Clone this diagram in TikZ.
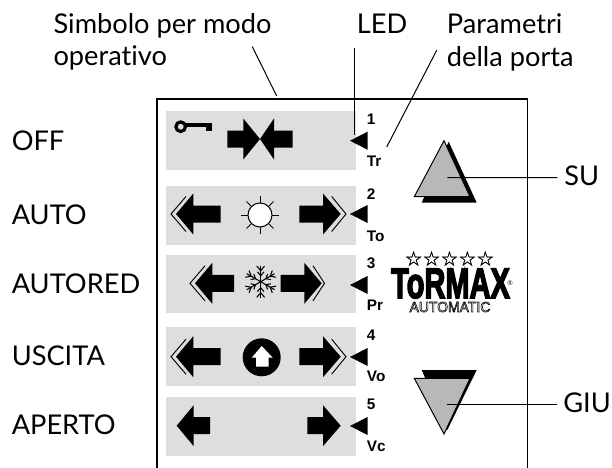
\documentclass[tikz,border=0pt]{standalone}
\usepackage{fontspec}
\setmainfont[Ligatures=NoCommon]{Lato}
\newfontfamily\panelfont{Liberation Sans}
\newfontfamily\logofont[FakeBold=4]{Liberation Sans Bold}
\newfontfamily\starfont[FakeBold=0.8]{DejaVu Sans}
\usetikzlibrary{positioning, calc}
\definecolor{bandgrey}{HTML}{DEDEDE}
\definecolor{buttongrey}{HTML}{B8B8B8}
\tikzstyle{label} = [inner sep=0, anchor=base west, font=\fontsize{20.4}{25}\selectfont, align=left]
\tikzstyle{small} = [inner sep=0, anchor=base west, font=\panelfont\fontsize{11.5}{13}\selectfont\bfseries]
\tikzstyle{leader} = [black, line width=0.75pt]
\tikzstyle{band} = [fill=bandgrey]
\tikzstyle{button} = [fill=buttongrey, draw=black, line width=0.75pt]
% tip x, head base x, shaft end x, y
\newcommand{\doorarrow}[4]{\fill (#1,#4) -- (#2,#4-20.5) -- (#2,#4-8.5) -- (#3,#4-8.5) -- (#3,#4+8.5) -- (#2,#4+8.5) -- (#2,#4+20.5) -- cycle;}
% tip x, arm x, y
\newcommand{\doorchevron}[3]{\draw[line width=0.7pt] (#2,#3-17.5) -- (#1,#3) -- (#2,#3+17.5);}

\begin{document}
\begin{tikzpicture}[x=0.75pt, y=-0.75pt]
	\useasboundingbox (0,0) rectangle (612,468);

	% panel
	\fill[white] (0,0) rectangle (612,468);
	\foreach \top/\bot in {111/169.5, 186/245, 255/313, 327/386, 397/456} {
		\fill[band] (166,\top) rectangle (356,\bot);
	}
	\draw[line width=0.9pt] (157,468) -- (157,99) -- (527.7,99) -- (527.7,468);

	% mode labels
	\node (off) [label] at (11.5,150.7) {OFF};
	\node (auto) [label] at (11.5,224.3) {AUTO};
	\node (autored) [label] at (11.5,293.3) {AUTORED};
	\node (uscita) [label] at (11.5,365) {USCITA};
	\node (aperto) [label] at (11.5,434) {APERTO};

	% top labels
	\node (simbolo) [label] at (53.3,33.3) {Simbolo per modo};
	\node (operativo) [label] at (53.3,65) {operativo};
	\node (led) [label] at (356.7,33.3) {LED};
	\node (parametri) [label] at (446.7,33.3) {Parametri};
	\node (porta) [label] at (446.7,66) {della porta};
	\node (su) [label] at (564,185) {SU};
	\node (giu) [label] at (563,412) {GIU};

	% LEDs and door parameters
	\foreach \n/\yled/\ynum/\ycode/\code in {1/140.7/124/166/Tr, 2/214/199/241/To, 3/285/268/310/Pr, 4/357/340.7/381.7/Vo, 5/426/409/451/Vc} {
		\fill (350,\yled) -- (367.5,\yled-9) -- (367.5,\yled+9) -- cycle;
		\coordinate (led-\n) at (354.7,\yled-5.5);
		\coordinate (code-\n) at (386.7,\yled+6.3);
		\node (num-\n) [small] at (366.7,\ynum) {\n};
		\node (par-\n) [small] at (366.7,\ycode) {\code};
	}

	% key
	\draw[line width=2.4pt] (180.7,126.7) circle (4.8);
	\fill (185,122.8) rectangle (212,127);
	\fill (206,122.8) rectangle (212,130.7);

	% arrows of each mode
	\doorarrow{260}{243.3}{227.3}{139}
	\doorarrow{260}{274}{292.7}{139}
	\doorarrow{176}{193.3}{220.7}{214}
	\doorarrow{340.7}{323}{299.3}{214}
	\doorchevron{171}{186}{214}
	\doorchevron{346}{331.7}{214}
	\doorarrow{195}{212.3}{234}{283.3}
	\doorarrow{321.7}{304.3}{280.7}{283.3}
	\doorchevron{190}{205}{283.3}
	\doorchevron{324.5}{313}{283.3}
	\doorarrow{176}{193.3}{220.7}{356.7}
	\doorarrow{340.7}{323}{299.3}{356.7}
	\doorchevron{171}{186}{356.7}
	\doorchevron{346}{331.7}{356.7}
	\doorarrow{176.7}{193.7}{210}{425.7}
	\doorarrow{340.7}{323}{307.3}{425.7}

	% sun
	\foreach \a in {0,45,...,315} {
		\draw[line width=0.75pt] (260,215) ++(\a:12) -- ++(\a:7);
	}
	\draw[fill=white, line width=0.75pt] (260,215) circle (12);

	% snowflake
	\foreach \a in {30,90,...,330} {
		\draw[line width=0.8pt] (260.7,281.7) -- ++(\a:16);
		\draw[line width=0.8pt] (260.7,281.7) ++(\a:11) -- ++(\a+40:6);
		\draw[line width=0.8pt] (260.7,281.7) ++(\a:11) -- ++(\a-40:6);
		\draw[line width=0.8pt] (260.7,281.7) ++(\a:6) -- ++(\a+40:5);
		\draw[line width=0.8pt] (260.7,281.7) ++(\a:6) -- ++(\a-40:5);
	}

	% exit symbol
	\fill (261.7,357.3) circle (19);
	\fill[white] (261.7,346) -- (272.7,357.7) -- (268.7,357.7) -- (268.7,366.7) -- (256,366.7) -- (256,357.7) -- (251.7,357.7) -- cycle;

	% buttons
	\fill (448.7,141.7) -- (476.7,202.7) -- (421.7,202.7) -- cycle;
	\draw[button] (444,140.7) -- (470,196.7) -- (414.3,196.7) -- cycle;
	\fill (421.7,370) -- (476.7,370) -- (447.3,430) -- cycle;
	\draw[button] (414.3,378.3) -- (470,378.3) -- (444,434) -- cycle;

	% logo
	\node (stars) [inner sep=0, font=\starfont\fontsize{15}{15}\selectfont] at (449.5,258.5) {☆☆☆☆☆};
	\node (tormax) [inner sep=0, font=\logofont\fontsize{32}{32}\selectfont] at (450.5,283.5) {\scalebox{0.68}[1]{ToRMAX}};
	\node (automatic) [inner sep=0, font=\panelfont\fontsize{11}{11}\selectfont] at (450,307) {\scalebox{0.95}[1]{\special{pdf:code 1 Tr 0.45 w}AUTOMATIC\special{pdf:code 0 Tr}}};
	\node (registered) [inner sep=0, font=\panelfont\fontsize{5}{5}\selectfont] at (510,283) {\textregistered};

	% leaders
	\coordinate (simbolo-end) at (276.7,96);
	\coordinate (su-end) at (447.3,177.7);
	\coordinate (giu-end) at (447.3,404);
	\draw[leader] ([shift={(199,13.4)}] simbolo.base west) -- (simbolo-end);
	\draw[leader] ([shift={(-2,15)}] led.base west) -- (led-1);
	\draw[leader] ([shift={(-10,17)}] parametri.base west) -- (code-1);
	\draw[leader] ([shift={(-6.7,-7.3)}] su.base west) -- (su-end);
	\draw[leader] ([shift={(-5.7,-8)}] giu.base west) -- (giu-end);
\end{tikzpicture}
\end{document}
